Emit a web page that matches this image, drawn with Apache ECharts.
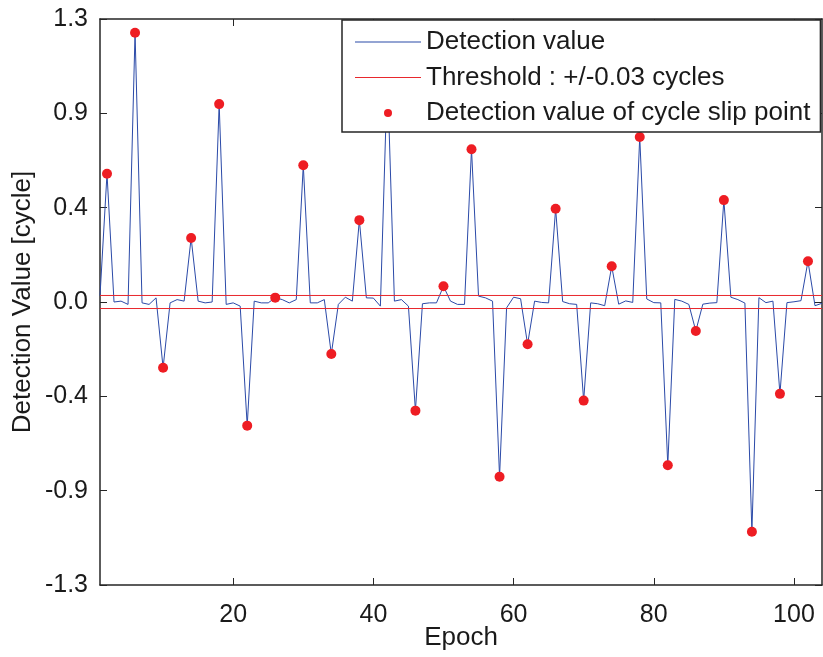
<!DOCTYPE html>
<html>
<head>
<meta charset="utf-8">
<script src="https://cdn.jsdelivr.net/npm/echarts@6/dist/echarts.min.js"></script>
<style>
html,body{margin:0;padding:0;background:#fff;}
#chart{width:823px;height:657px;}
</style>
</head>
<body>
<div id="chart"></div>
<script>
// ---- data ----
const epochs = [];
for (let e = 1; e <= 104; e++) epochs.push(e);

const detectionValues = [
  0.029, 0.589, 0.000, 0.004, -0.011, 1.237, -0.004, -0.011, 0.019, -0.302,
  -0.004, 0.011, 0.004, 0.294, 0.004, -0.004, 0.000, 0.909, -0.011, -0.004,
  -0.019, -0.568, 0.004, -0.004, -0.004, 0.020, 0.011, -0.004, 0.011, 0.628,
  -0.004, -0.004, 0.011, -0.239, -0.011, 0.022, 0.004, 0.376, 0.019, 0.018,
  -0.019, 1.050, 0.004, 0.011, -0.019, -0.499, -0.008, -0.004, -0.004, 0.072,
  0.004, -0.011, -0.011, 0.702, 0.027, 0.019, 0.004, -0.803, -0.027, 0.022,
  0.015, -0.194, 0.004, -0.002, -0.004, 0.428, 0.002, -0.008, -0.011, -0.453,
  -0.004, -0.008, -0.017, 0.164, -0.010, 0.005, -0.002, 0.758, 0.014, -0.003,
  -0.004, -0.750, 0.012, 0.004, -0.011, -0.133, -0.010, -0.005, -0.003, 0.468,
  0.022, 0.011, -0.005, -1.055, 0.020, -0.003, 0.004, -0.422, -0.003, 0.001,
  0.006, 0.187, -0.017, -0.006
];

const slipEpochs = [2, 6, 10, 14, 18, 22, 26, 30, 34, 38, 42, 46, 50, 54, 58, 62, 66, 70, 74, 78, 82, 86, 90, 94, 98, 102];

const thresholdValue = 0.03;

const xTickValues = [20, 40, 60, 80, 100];
const xTickLabels = ['20', '40', '60', '80', '100'];
const yTickLabels = ['-1.3', '-0.9', '-0.4', '0.0', '0.4', '0.9', '1.3'];

const seriesKeys = ['detection', 'threshold', 'slip'];
const legendNames = ['Detection value', 'Threshold : +/-0.03 cycles', 'Detection value of cycle slip point'];
const xAxisTitle = 'Epoch';
const yAxisTitle = 'Detection Value [cycle]';

// ---- build series data ----
const lineData = epochs.map((e, i) => [e, detectionValues[i]]);
const slipData = slipEpochs.map(e => [e, detectionValues[epochs.indexOf(e)]]);
const xFirst = epochs[0], xLast = epochs[epochs.length - 1];
const thresholdUpper = [[xFirst, thresholdValue], [xLast, thresholdValue]];
const thresholdLower = [[xFirst, -thresholdValue], [xLast, -thresholdValue]];

const FONT = '"Liberation Sans", Arial, Helvetica, sans-serif';
const AXIS_COLOR = '#262626';
const TEXT_COLOR = '#1a1a1a';
const BLUE = '#2b4aa8';
const THR_RED = '#e8282d';
const DOT_RED = '#ee1d23';
const LINE_ICON = 'path://M0,0H66V1.2H0Z';
const yMin = -1.3, yMax = 1.3, yInterval = 2.6 / 6;

const thresholdSeries = (data) => ({
  name: seriesKeys[1], type: 'line', xAxisIndex: 0, yAxisIndex: 0,
  color: THR_RED,
  data: data, symbol: 'none', showSymbol: false,
  lineStyle: {color: THR_RED, width: 1},
  itemStyle: {color: THR_RED},
  z: 2
});

const chart = echarts.init(document.getElementById('chart'), null, {renderer: 'canvas'});
chart.setOption({
  animation: false,
  backgroundColor: '#ffffff',
  color: [BLUE, THR_RED, THR_RED, DOT_RED],
  grid: {left: 100, right: 1, top: 19, bottom: 72, containLabel: false, outerBoundsMode: 'none'},
  legend: {
    orient: 'vertical',
    left: 342,
    top: 20,
    z: 10,
    padding: [9, 10, 6, 13],
    itemGap: 9.5,
    itemWidth: 66,
    itemHeight: 8,
    symbolKeepAspect: true,
    selectedMode: false,
    backgroundColor: '#ffffff',
    borderColor: AXIS_COLOR,
    borderWidth: 1.5,
    borderRadius: 0,
    textStyle: {fontSize: 26, fontFamily: FONT, color: TEXT_COLOR},
    formatter: (name) => legendNames[seriesKeys.indexOf(name)],
    data: [
      {name: seriesKeys[0], icon: LINE_ICON, itemStyle: {color: BLUE, borderColor: BLUE, opacity: 1, borderWidth: 0}},
      {name: seriesKeys[1], icon: LINE_ICON, itemStyle: {color: THR_RED, borderColor: THR_RED, opacity: 1, borderWidth: 0}},
      {name: seriesKeys[2], icon: 'circle', itemStyle: {color: DOT_RED, opacity: 1, borderWidth: 0}}
    ]
  },
  xAxis: [
    {
      type: 'value', min: xFirst, max: 104, position: 'bottom',
      axisLine: {show: true, onZero: false, lineStyle: {color: AXIS_COLOR, width: 1.5}},
      axisTick: {show: true, inside: true, length: 7, customValues: xTickValues, lineStyle: {color: AXIS_COLOR, width: 1}},
      axisLabel: {show: true, customValues: xTickValues, margin: 18, fontSize: 25, fontFamily: FONT, color: TEXT_COLOR,
        formatter: (v) => xTickLabels[xTickValues.indexOf(v)]},
      splitLine: {show: false},
      name: xAxisTitle, nameLocation: 'middle', nameGap: 40, nameMoveOverlap: false,
      nameTextStyle: {fontSize: 26, fontFamily: FONT, color: TEXT_COLOR}
    },
    {
      type: 'value', min: xFirst, max: 104, position: 'top',
      axisLine: {show: true, onZero: false, lineStyle: {color: AXIS_COLOR, width: 1.5}},
      axisTick: {show: true, inside: true, length: 7, customValues: xTickValues, lineStyle: {color: AXIS_COLOR, width: 1}},
      axisLabel: {show: false},
      splitLine: {show: false}
    }
  ],
  yAxis: [
    {
      type: 'value', min: yMin, max: yMax, interval: yInterval, position: 'left',
      axisLine: {show: true, onZero: false, lineStyle: {color: AXIS_COLOR, width: 1.5}},
      axisTick: {show: true, inside: true, length: 7, lineStyle: {color: AXIS_COLOR, width: 1}},
      axisLabel: {show: true, margin: 12, fontSize: 25, fontFamily: FONT, color: TEXT_COLOR,
        formatter: (v, idx) => yTickLabels[idx]},
      splitLine: {show: false},
      name: yAxisTitle, nameLocation: 'middle', nameGap: 64, nameRotate: 90, nameMoveOverlap: false,
      nameTextStyle: {fontSize: 26, fontFamily: FONT, color: TEXT_COLOR}
    },
    {
      type: 'value', min: yMin, max: yMax, interval: yInterval, position: 'right',
      axisLine: {show: true, onZero: false, lineStyle: {color: AXIS_COLOR, width: 1.5}},
      axisTick: {show: true, inside: true, length: 7, lineStyle: {color: AXIS_COLOR, width: 1}},
      axisLabel: {show: false},
      splitLine: {show: false}
    }
  ],
  series: [
    {
      name: seriesKeys[0], type: 'line', xAxisIndex: 0, yAxisIndex: 0,
      color: BLUE,
      data: lineData, symbol: 'none', showSymbol: false, clip: true,
      lineStyle: {color: BLUE, width: 1},
      itemStyle: {color: BLUE},
      z: 2
    },
    thresholdSeries(thresholdUpper),
    thresholdSeries(thresholdLower),
    {
      name: seriesKeys[2], type: 'scatter', xAxisIndex: 0, yAxisIndex: 0,
      color: DOT_RED,
      data: slipData, symbol: 'circle', symbolSize: 10,
      itemStyle: {color: DOT_RED, opacity: 1},
      z: 3
    }
  ]
});
</script>
</body>
</html>
